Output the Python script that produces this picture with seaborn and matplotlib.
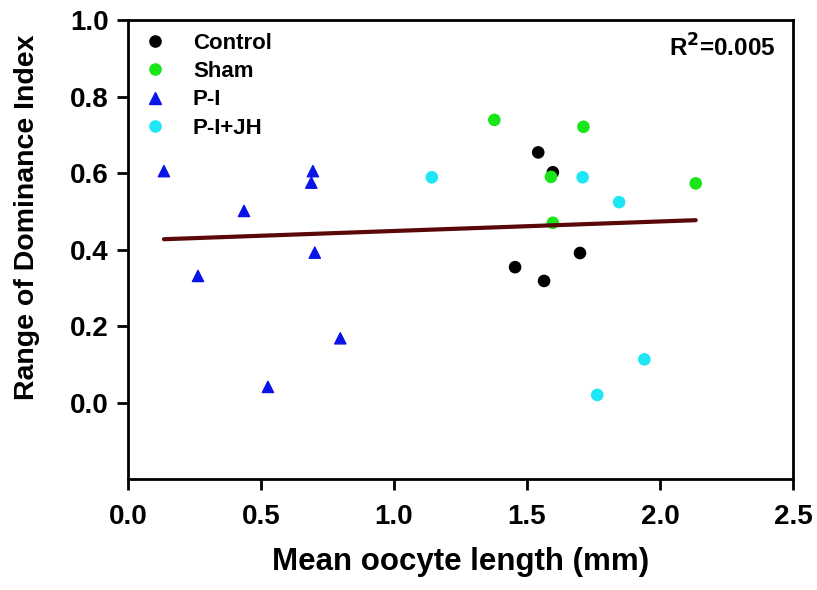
import numpy as np
import pandas as pd
import matplotlib
matplotlib.use("Agg")
import matplotlib.pyplot as plt
import seaborn as sns

# data
groups = ["Control", "Sham", "P-I", "P-I+JH"]

control_x = [1.542, 1.597, 1.455, 1.564, 1.699]
control_y = [0.654, 0.602, 0.354, 0.318, 0.391]

sham_x = [1.377, 1.712, 1.590, 1.597, 2.134]
sham_y = [0.739, 0.721, 0.590, 0.470, 0.573]

pi_x = [0.135, 0.695, 0.689, 0.436, 0.263, 0.702, 0.798, 0.526]
pi_y = [0.605, 0.605, 0.575, 0.501, 0.331, 0.392, 0.168, 0.041]

pijh_x = [1.142, 1.709, 1.846, 1.941, 1.764]
pijh_y = [0.589, 0.589, 0.524, 0.113, 0.020]

r2_text = "R$^\\mathbf{2}$=0.005"

colors = {"Control": "#000000", "Sham": "#19e619", "P-I": "#0a14e6", "P-I+JH": "#1ee6f5"}
markers = {"Control": "o", "Sham": "o", "P-I": "^", "P-I+JH": "o"}

df = pd.concat([
    pd.DataFrame({"x": control_x, "y": control_y, "group": "Control"}),
    pd.DataFrame({"x": sham_x, "y": sham_y, "group": "Sham"}),
    pd.DataFrame({"x": pi_x, "y": pi_y, "group": "P-I"}),
    pd.DataFrame({"x": pijh_x, "y": pijh_y, "group": "P-I+JH"}),
], ignore_index=True)

sns.set_style("ticks", {"axes.edgecolor": "black", "xtick.color": "black",
                        "ytick.color": "black", "text.color": "black",
                        "axes.labelcolor": "black"})
plt.rcParams["font.family"] = ["Liberation Sans", "DejaVu Sans"]
plt.rcParams["font.weight"] = "bold"

fig = plt.figure(figsize=(8.17, 5.9), dpi=100)
ax = fig.add_axes([0.1567, 0.188, 0.814, 0.778])

# regression line over all points
sns.regplot(data=df, x="x", y="y", scatter=False, ci=None, ax=ax,
            line_kws={"color": "#5a0808", "lw": 3})

sns.scatterplot(data=df, x="x", y="y", hue="group", style="group",
                hue_order=groups, style_order=groups,
                palette=colors, markers=markers, s=65, linewidth=1,
                ax=ax)
for coll in ax.collections:
    coll.set_edgecolor(coll.get_facecolor())

ax.set_xlim(0, 2.5)
ax.set_ylim(-0.2, 1.0)
ax.set_xticks(np.arange(0, 2.51, 0.5))
ax.set_yticks(np.arange(0, 1.01, 0.2))
ax.set_xticklabels([f"{v:.1f}" for v in np.arange(0, 2.51, 0.5)])
ax.set_yticklabels([f"{v:.1f}" for v in np.arange(0, 1.01, 0.2)])
ax.tick_params(axis="both", direction="out", length=8, width=2,
               labelsize=20, colors="black")
ax.tick_params(axis="x", pad=10)
ax.tick_params(axis="y", pad=6)
for lab in ax.get_xticklabels() + ax.get_yticklabels():
    lab.set_fontweight("bold")
for sp in ax.spines.values():
    sp.set_linewidth(2)
    sp.set_color("black")
    sp.set_visible(True)

ax.set_xlabel("Mean oocyte length (mm)", fontsize=22.5, fontweight="bold", labelpad=12)
ax.set_ylabel("Range of Dominance Index", fontsize=20.5, fontweight="bold")
ax.yaxis.set_label_coords(-0.133, 0.571)

ax.text(0.973, 0.94, r2_text, transform=ax.transAxes, ha="right", va="center",
        fontsize=17.5, fontweight="bold")

leg = ax.legend(loc="upper left", bbox_to_anchor=(0, 0.992), frameon=False,
                prop={"weight": "bold", "size": 16}, handletextpad=0.92,
                labelspacing=0.33, borderaxespad=0, handlelength=1.6)
for h in leg.legend_handles:
    h.set_markeredgecolor(h.get_markerfacecolor())

fig.savefig("out.png", dpi=100)
